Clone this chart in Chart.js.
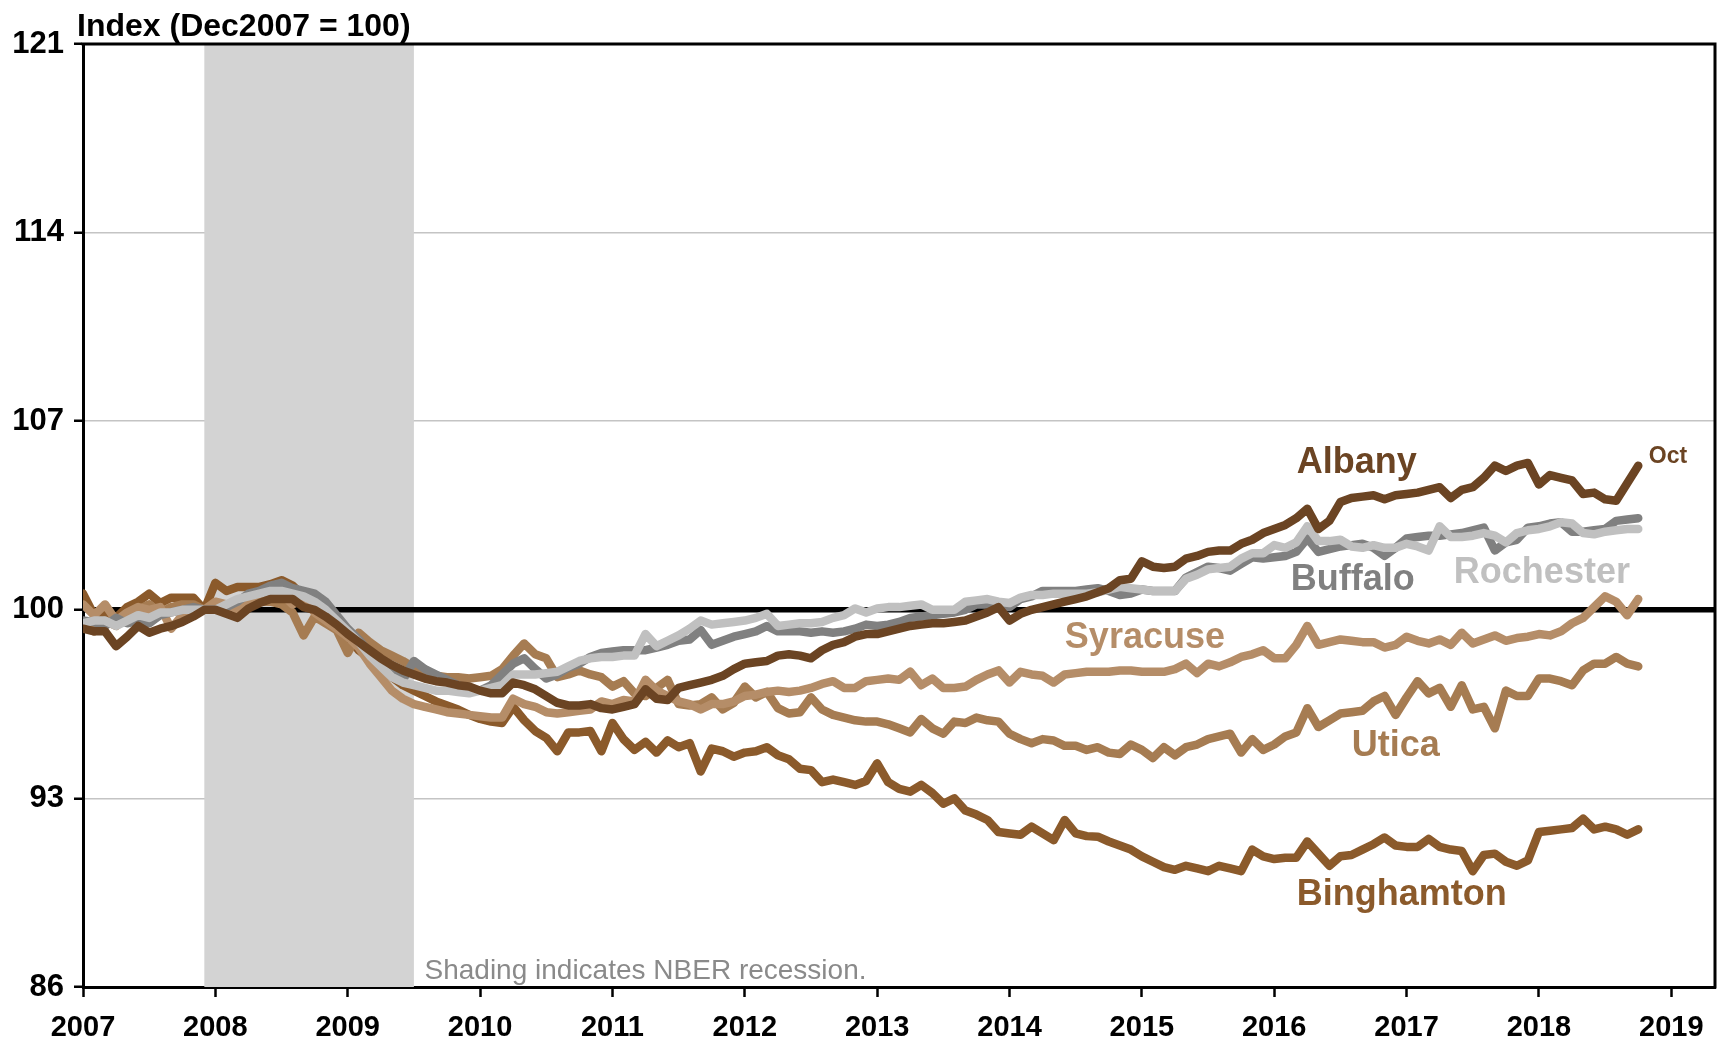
<!DOCTYPE html>
<html>
<head>
<meta charset="utf-8">
<script src="https://cdn.jsdelivr.net/npm/chart.js@4.4.1/dist/chart.umd.min.js"></script>
<style>
html,body{margin:0;padding:0;background:#fff;overflow:hidden}
canvas{display:block}
</style>
</head>
<body>
<canvas id="c" width="1723" height="1042" style="width:1723px;height:1042px"></canvas>
<script>
// ---------------- DATA ----------------
const startYear = 2007;               // first month = Jan 2007, monthly through Oct 2018
const yearTicks = [2007,2008,2009,2010,2011,2012,2013,2014,2015,2016,2017,2018,2019];
const yTicks = [86,93,100,107,114,121];
const refValue = 100;
const recessionStart = 2007 + 11/12;  // Dec 2007
const recessionEnd = 2009.5;          // Jun 2009

const albany = [
 99.3,99.2,99.2,98.65,99.0,99.4,99.15,99.3,99.4,99.55,99.75,100.0,
 100.0,99.85,99.7,100.05,100.25,100.4,100.4,100.4,100.1,100.0,99.75,99.45,
 99.1,98.8,98.5,98.2,97.95,97.75,97.6,97.45,97.35,97.3,97.2,97.15,
 97.0,96.9,96.9,97.3,97.2,97.05,96.8,96.55,96.45,96.45,96.5,96.35,
 96.3,96.4,96.5,97.05,96.7,96.65,97.1,97.2,97.3,97.4,97.55,97.8,
 98.0,98.05,98.1,98.3,98.35,98.3,98.2,98.5,98.7,98.8,99.0,99.1,
 99.1,99.2,99.3,99.4,99.45,99.5,99.5,99.55,99.6,99.75,99.9,100.1,
 99.6,99.85,100.0,100.1,100.2,100.3,100.4,100.5,100.65,100.8,101.1,101.15,
 101.8,101.6,101.55,101.6,101.9,102.0,102.15,102.2,102.2,102.45,102.6,102.85,
 103.0,103.15,103.4,103.75,103.0,103.3,104.0,104.15,104.2,104.25,104.1,104.25,
 104.3,104.35,104.45,104.55,104.15,104.45,104.55,104.9,105.35,105.15,105.35,105.45,
 104.65,105.0,104.9,104.8,104.3,104.35,104.1,104.05,104.7,105.35
];
const buffalo = [
 99.6,99.55,99.4,99.7,99.5,99.6,99.5,99.8,99.9,100.0,100.1,100.0,
 100.0,100.1,100.3,100.6,100.7,100.9,101.0,100.8,100.7,100.6,100.3,99.8,
 99.3,98.9,98.4,97.9,97.65,97.4,98.1,97.8,97.6,97.4,97.2,97.05,
 97.0,97.2,97.6,98.0,98.2,97.8,97.45,97.6,97.85,98.0,98.25,98.4,
 98.45,98.5,98.5,98.5,98.6,98.7,98.85,98.9,99.25,98.7,98.85,99.0,
 99.1,99.2,99.4,99.2,99.2,99.2,99.15,99.2,99.15,99.2,99.3,99.45,
 99.4,99.45,99.55,99.7,99.75,99.8,99.85,99.9,100.0,100.2,100.2,100.1,
 100.1,100.4,100.5,100.7,100.7,100.7,100.7,100.75,100.8,100.7,100.55,100.6,
 100.75,100.7,100.7,100.7,101.2,101.4,101.6,101.55,101.45,101.7,101.95,101.9,
 101.95,102.0,102.15,102.65,102.15,102.25,102.35,102.4,102.45,102.3,102.0,102.3,
 102.65,102.7,102.75,102.75,102.8,102.85,102.95,103.05,102.2,102.5,102.6,103.05,
 103.1,103.2,103.25,102.9,102.9,102.95,103.0,103.3,103.35,103.4
];
const rochester = [
 99.5,99.6,99.6,99.4,99.6,99.8,99.7,99.9,99.9,100.0,100.0,100.0,
 100.0,100.2,100.4,100.5,100.6,100.7,100.7,100.6,100.5,100.3,100.0,99.6,
 99.2,98.8,98.3,97.9,97.5,97.3,97.2,97.1,97.0,97.0,96.95,96.9,
 97.0,97.1,97.2,97.6,97.6,97.6,97.65,97.7,97.9,98.1,98.2,98.25,
 98.25,98.3,98.3,99.1,98.65,98.85,99.05,99.3,99.6,99.45,99.5,99.55,
 99.6,99.7,99.85,99.4,99.45,99.5,99.5,99.55,99.7,99.8,100.05,99.9,
 100.05,100.1,100.1,100.15,100.2,100.0,100.0,100.0,100.3,100.35,100.4,100.3,
 100.25,100.45,100.55,100.55,100.6,100.6,100.6,100.6,100.65,100.75,100.85,100.8,
 100.75,100.7,100.7,100.7,101.15,101.3,101.5,101.55,101.6,101.9,102.1,102.1,
 102.4,102.3,102.5,103.1,102.55,102.55,102.6,102.35,102.3,102.4,102.3,102.3,
 102.45,102.35,102.2,103.1,102.7,102.7,102.75,102.85,102.75,102.5,102.85,102.95,
 103.0,103.1,103.25,103.2,102.85,102.8,102.9,102.95,103.0,103.0
];
const syracuse = [
 100.2,99.8,100.2,99.6,99.9,100.1,100.0,100.1,99.3,99.8,100.0,100.0,
 100.3,100.2,100.0,100.4,100.5,100.6,100.6,100.2,100.4,99.9,99.6,99.3,
 99.0,98.6,98.0,97.5,97.0,96.7,96.5,96.4,96.3,96.2,96.15,96.1,
 96.05,96.0,96.0,96.7,96.5,96.4,96.2,96.15,96.2,96.25,96.3,96.6,
 96.5,96.65,96.6,97.4,97.0,96.8,96.6,96.5,96.3,96.5,96.5,96.6,
 96.8,96.85,96.95,97.0,96.95,97.0,97.1,97.25,97.35,97.1,97.1,97.35,
 97.4,97.45,97.4,97.7,97.2,97.45,97.1,97.1,97.15,97.4,97.6,97.75,
 97.3,97.7,97.6,97.55,97.3,97.6,97.65,97.7,97.7,97.7,97.75,97.75,
 97.7,97.7,97.7,97.8,98.0,97.65,98.0,97.9,98.05,98.25,98.35,98.5,
 98.2,98.2,98.7,99.4,98.7,98.8,98.9,98.85,98.8,98.8,98.6,98.7,
 99.0,98.85,98.75,98.9,98.7,99.15,98.75,98.9,99.05,98.85,98.95,99.0,
 99.1,99.05,99.2,99.5,99.7,100.1,100.5,100.3,99.8,100.4
];
const utica = [
 99.5,99.2,99.6,99.4,99.7,100.0,100.2,99.9,100.1,100.2,100.2,100.0,
 100.0,100.1,100.15,100.2,100.3,100.3,100.2,99.9,99.05,99.75,99.5,99.25,
 98.4,99.15,98.8,98.5,98.3,98.1,97.85,97.6,97.55,97.5,97.5,97.45,
 97.5,97.55,97.8,98.3,98.75,98.35,98.2,97.5,97.6,97.75,97.6,97.5,
 97.15,97.35,96.9,96.8,97.1,97.4,96.5,96.45,96.5,96.75,96.3,96.55,
 97.15,96.75,96.95,96.35,96.15,96.2,96.75,96.3,96.1,96.0,95.9,95.85,
 95.85,95.75,95.6,95.45,95.95,95.6,95.4,95.85,95.8,96.0,95.9,95.85,
 95.4,95.2,95.05,95.2,95.15,94.95,94.95,94.8,94.9,94.7,94.65,95.0,
 94.8,94.5,94.9,94.6,94.9,95.0,95.2,95.3,95.4,94.7,95.2,94.8,
 95.0,95.3,95.45,96.35,95.65,95.9,96.15,96.2,96.25,96.6,96.8,96.1,
 96.75,97.35,96.9,97.1,96.4,97.2,96.3,96.4,95.6,97.0,96.8,96.8,
 97.45,97.45,97.35,97.2,97.75,98.0,98.0,98.25,98.0,97.9
];
const binghamton = [
 100.6,99.8,99.9,99.7,100.1,100.3,100.6,100.25,100.45,100.45,100.45,100.0,
 101.0,100.7,100.85,100.85,100.85,100.95,101.1,100.9,100.5,100.2,99.9,99.5,
 99.0,98.5,98.2,97.9,97.5,97.2,97.0,96.8,96.6,96.45,96.3,96.1,
 95.95,95.85,95.8,96.4,95.9,95.5,95.25,94.75,95.45,95.45,95.5,94.75,
 95.8,95.2,94.8,95.1,94.7,95.15,94.9,95.05,94.0,94.85,94.75,94.55,
 94.7,94.75,94.9,94.6,94.45,94.1,94.05,93.6,93.7,93.6,93.5,93.65,
 94.3,93.6,93.35,93.25,93.5,93.2,92.8,93.0,92.55,92.4,92.2,91.75,
 91.7,91.65,91.95,91.7,91.45,92.2,91.7,91.6,91.58,91.4,91.25,91.1,
 90.85,90.65,90.45,90.35,90.5,90.4,90.3,90.5,90.4,90.3,91.1,90.85,
 90.75,90.8,90.8,91.4,90.95,90.5,90.85,90.9,91.1,91.3,91.55,91.25,
 91.2,91.2,91.5,91.2,91.1,91.05,90.3,90.9,90.95,90.65,90.5,90.7,
 91.75,91.8,91.85,91.9,92.25,91.85,91.95,91.85,91.65,91.85
];

// ---------------- STYLE / LAYOUT ----------------
const FONT = "'Liberation Sans', Arial, Helvetica, sans-serif";
const COLORS = {
  albany: '#6B4423', buffalo: '#808080', rochester: '#C0C0C0',
  syracuse: '#B58D68', utica: '#A67C52', binghamton: '#8B5A2B'
};
const xMax = 2019.33;

const toPoints = arr => arr.map((v, i) => ({ x: startYear + i / 12, y: v }));

function series(label, arr, color) {
  return {
    label, data: toPoints(arr), borderColor: color, backgroundColor: color,
    borderWidth: 8.5, pointRadius: 0, tension: 0, fill: false,
    borderCapStyle: 'round', borderJoinStyle: 'round'
  };
}

const datasets = [
  series('Albany', albany, COLORS.albany),
  series('Rochester', rochester, COLORS.rochester),
  series('Buffalo', buffalo, COLORS.buffalo),
  series('Syracuse', syracuse, COLORS.syracuse),
  series('Utica', utica, COLORS.utica),
  series('Binghamton', binghamton, COLORS.binghamton),
  {
    label: 'ref', data: [{ x: startYear, y: refValue }, { x: xMax, y: refValue }],
    borderColor: '#000', borderWidth: 5.5, pointRadius: 0, tension: 0, fill: false
  }
];

const annotations = [
  { text: 'Albany', x: 2016.17, y: 105.08, color: COLORS.albany, font: 'bold 36px ' + FONT },
  { text: 'Buffalo', x: 2016.125, y: 100.73, color: COLORS.buffalo, font: 'bold 36px ' + FONT },
  { text: 'Rochester', x: 2017.357, y: 100.99, color: COLORS.rochester, font: 'bold 36px ' + FONT },
  { text: 'Syracuse', x: 2014.418, y: 98.58, color: COLORS.syracuse, font: 'bold 36px ' + FONT },
  { text: 'Utica', x: 2016.586, y: 94.57, color: COLORS.utica, font: 'bold 36px ' + FONT },
  { text: 'Binghamton', x: 2016.17, y: 89.04, color: COLORS.binghamton, font: 'bold 36px ' + FONT },
  { text: 'Oct', x: 2018.83, y: 105.45, color: COLORS.albany, font: 'bold 23px ' + FONT },
  { text: 'Shading indicates NBER recession.', x: 2009.58, y: 86.29, color: '#8A8A8A', font: '28px ' + FONT }
];

const decorPlugin = {
  id: 'decor',
  beforeDatasetsDraw(chart) {
    const { ctx, chartArea: a, scales: { x } } = chart;
    const x0 = x.getPixelForValue(recessionStart), x1 = x.getPixelForValue(recessionEnd);
    ctx.save();
    ctx.fillStyle = '#D3D3D3';
    ctx.fillRect(x0, a.top, x1 - x0, a.bottom - a.top);
    ctx.restore();
  },
  afterDatasetsDraw(chart) {
    const { ctx, chartArea: a, scales: { x, y } } = chart;
    ctx.save();
    // frame (top & right)
    ctx.strokeStyle = '#000';
    ctx.lineWidth = 3;
    ctx.beginPath();
    ctx.moveTo(a.left - 1.5, a.top);
    ctx.lineTo(a.right, a.top);
    ctx.lineTo(a.right, a.bottom + 1.5);
    ctx.stroke();
    // text annotations
    ctx.textAlign = 'left';
    ctx.textBaseline = 'alphabetic';
    annotations.forEach(t => {
      ctx.font = t.font;
      ctx.fillStyle = t.color;
      ctx.fillText(t.text, x.getPixelForValue(t.x), y.getPixelForValue(t.y));
    });
    // title
    ctx.font = 'bold 32px ' + FONT;
    ctx.fillStyle = '#000';
    ctx.fillText('Index (Dec2007 = 100)', 77, 36);
    ctx.restore();
  }
};

new Chart(document.getElementById('c'), {
  type: 'line',
  data: { datasets },
  options: {
    responsive: false,
    animation: false,
    devicePixelRatio: 1,
    layout: { padding: { top: 44, right: 8, left: 0, bottom: 0 } },
    plugins: { legend: { display: false }, tooltip: { enabled: false }, title: { display: false } },
    scales: {
      x: {
        type: 'linear', min: startYear, max: xMax,
        afterBuildTicks: s => { s.ticks = yearTicks.map(v => ({ value: v })); },
        afterFit: s => { s.height = 55; },
        ticks: {
          autoSkip: false, maxRotation: 0, padding: 14, color: '#000',
          font: { family: FONT, size: 29, weight: 'bold' },
          callback: v => String(v)
        },
        grid: { drawOnChartArea: false, drawTicks: true, tickLength: 10, tickWidth: 2.5, tickColor: '#000' },
        border: { color: '#000', width: 3 }
      },
      y: {
        min: 86, max: 121,
        afterBuildTicks: s => { s.ticks = yTicks.map(v => ({ value: v })); },
        afterFit: s => { s.width = 83; },
        ticks: {
          padding: 10, color: '#000',
          font: { family: FONT, size: 31, weight: 'bold' },
          callback: v => String(v)
        },
        grid: {
          drawTicks: true, tickLength: 9, tickWidth: 2.5, tickColor: '#000', lineWidth: 1.5,
          color: c => (c.tick && [93, 107, 114].includes(c.tick.value)) ? '#C4C4C4' : 'rgba(0,0,0,0)'
        },
        border: { color: '#000', width: 3 }
      }
    }
  },
  plugins: [decorPlugin]
});
</script>
</body>
</html>
